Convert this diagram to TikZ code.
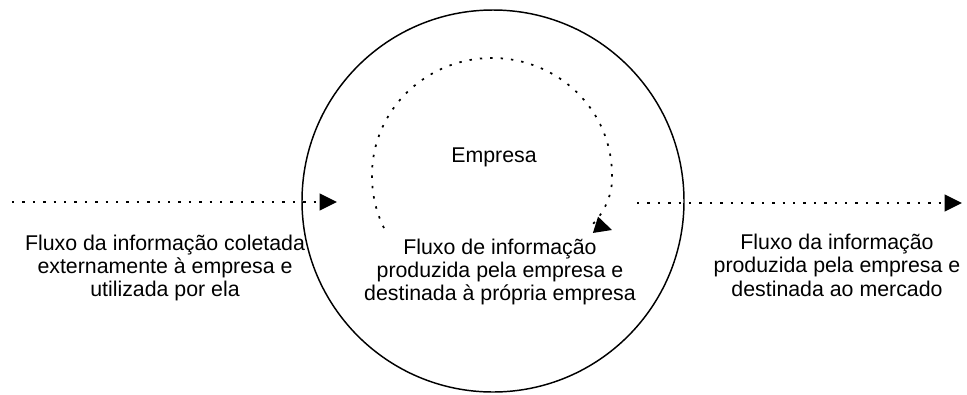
\documentclass[tikz,border=0pt]{standalone}
\usepackage{fontspec}
\setmainfont{Liberation Sans}
\usetikzlibrary{arrows.meta}
\tikzset{
  fluxo/.style={line width=1.3pt, dash pattern={on 1.8pt off 6pt}, -{Triangle[length=13pt,width=12.5pt]}},
  rotulo/.style={inner sep=0.75pt, align=center, font=\fontsize{16}{17.6}\selectfont}
}

\begin{document}
\begin{tikzpicture}[x=0.75pt,y=0.75pt,yscale=-1,xscale=1]
\useasboundingbox (0,0) rectangle (967,394);

%Shape: Circle
\node [draw, circle, line width=1.1pt, minimum size=382*0.75pt, inner sep=0pt] (empresa) at (493,201) {};

%Straight Lines
\coordinate (entraA) at (12,202);
\coordinate (entraB) at (337,202);
\draw [fluxo] (entraA) -- (entraB) ;
%Straight Lines
\coordinate (saiA) at (637,203);
\coordinate (saiB) at (962,203);
\draw [fluxo] (saiA) -- (saiB) ;
%Curve Lines
\coordinate (cicloA) at (384,228);
\coordinate (cicloB) at (612,230);
\draw [fluxo] (cicloA) .. controls (376,212) and (372,195) .. (372,175) arc[start angle=180, end angle=360, x radius=120, y radius=117] .. controls (613,195) and (604,212) .. (593,224) -- (cicloB) ;

% Text Node
\node [rotulo] (nome) at (494,157) {Empresa};
% Text Node
\node [rotulo] (externo) at (165,268) {Fluxo da informação coletada\\externamente à empresa e\\utilizada por ela};
% Text Node
\node [rotulo] (interno) at (500,272) {Fluxo de informação\\produzida pela empresa e\\destinada à própria empresa};
% Text Node
\node [rotulo] (mercado) at (837,265) {Fluxo da informação\\produzida pela empresa e\\destinada ao mercado};

\end{tikzpicture}
\end{document}
